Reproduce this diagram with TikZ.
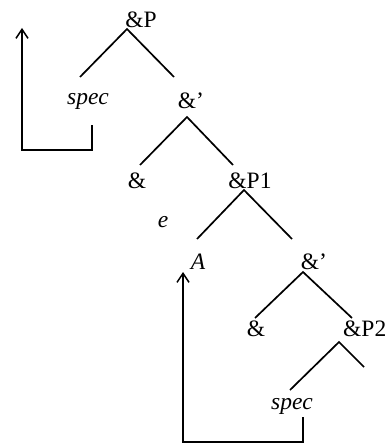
\documentclass[tikz,border=0pt]{standalone}
\usepackage{fontspec}
\setmainfont{Liberation Serif}
\usetikzlibrary{arrows.meta}
\begin{document}
\begin{tikzpicture}[x=1pt,y=-1pt,
  lbl/.style={inner sep=0pt,font=\fontsize{23.5}{26}\selectfont},
  ilbl/.style={lbl,font=\fontsize{23.5}{26}\selectfont\itshape},
  branch/.style={line width=1.7pt},
  mv/.style={line width=1.7pt,-{Straight Barb[length=9pt,width=12pt,line width=1.5pt]}}]
\useasboundingbox (0,0) rectangle (385,444);
% labels
\node[lbl] (P) at (141,20) {\&P};
\node[ilbl] (spec1) at (88,101) {spec};
\node[lbl] (bar1) at (191,101) {\&'};
\node[lbl] (amp1) at (137,181) {\&};
\node[lbl] (P1) at (250,181) {\&P1};
\node[ilbl] (e) at (163,222) {e};
\node[ilbl] (A) at (198,262) {A};
\node[lbl] (bar2) at (314,262) {\&'};
\node[lbl] (amp2) at (256,329) {\&};
\node[lbl, anchor=west] (P2) at (343,329) {\&P2};
\node[ilbl] (spec2) at (292,406) {spec};
% branch points
\coordinate (aP) at (127,29);
\coordinate (lP) at (80,77);
\coordinate (rP) at (174,77);
\coordinate (a1) at (187,117);
\coordinate (l1) at (140,165);
\coordinate (r1) at (233,165);
\coordinate (a2) at (244,190);
\coordinate (l2) at (197,239);
\coordinate (r2) at (292,239);
\coordinate (a3) at (303,272);
\coordinate (l3) at (255,318);
\coordinate (r3) at (352,318);
\coordinate (a4) at (339,342);
\coordinate (l4) at (290,390);
\coordinate (r4) at (364,367);
\draw[branch] (lP) -- (aP) -- (rP);
\draw[branch] (l1) -- (a1) -- (r1);
\draw[branch] (l2) -- (a2) -- (r2);
\draw[branch] (l3) -- (a3) -- (r3);
\draw[branch] (l4) -- (a4) -- (r4);
% movement arrows
\coordinate (s1) at (92,125);
\coordinate (c1) at (92,150);
\coordinate (c2) at (22,150);
\coordinate (t1) at (22,28);
\draw[mv] (s1) -- (c1) -- (c2) -- (t1);
\coordinate (s2) at (303,417);
\coordinate (c3) at (303,442);
\coordinate (c4) at (183,442);
\coordinate (t2) at (183,272);
\draw[mv] (s2) -- (c3) -- (c4) -- (t2);
\end{tikzpicture}
\end{document}
